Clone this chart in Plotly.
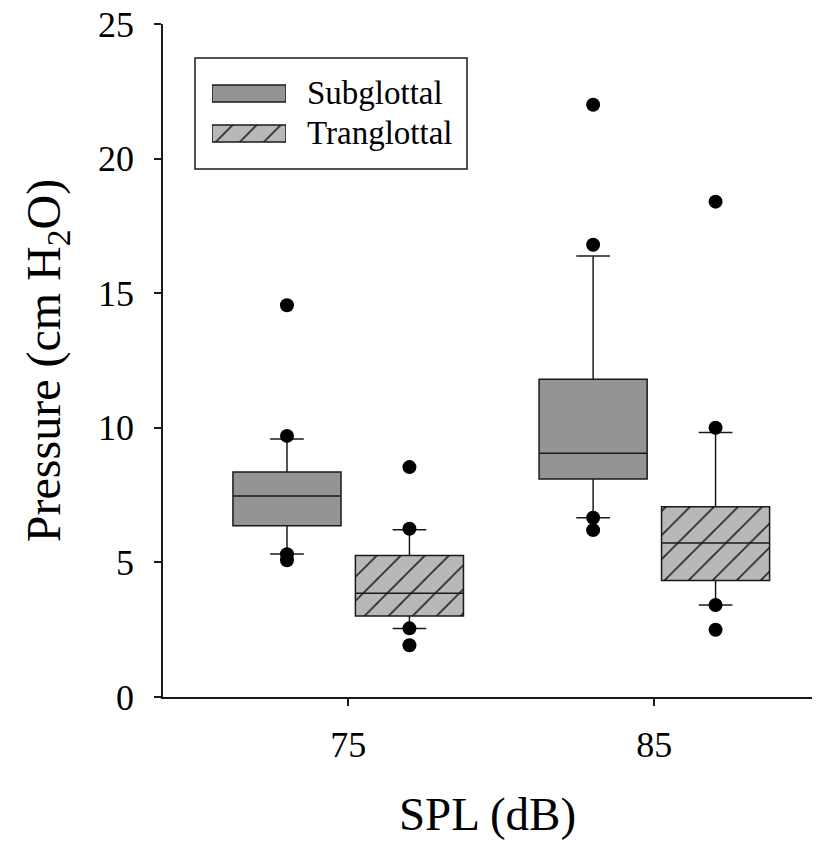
import plotly.graph_objects as go

# ---- data ----
spl = ["75", "85"]

sub_q1 = [6.36, 8.10]
sub_med = [7.47, 9.05]
sub_q3 = [8.36, 11.80]
sub_lo = [5.31, 6.66]
sub_hi = [9.58, 16.38]
sub_out = [[14.55, 9.70, 5.30, 5.08], [22.00, 16.80, 6.66, 6.20]]

tr_q1 = [3.01, 4.33]
tr_med = [3.85, 5.72]
tr_q3 = [5.26, 7.07]
tr_lo = [2.54, 3.42]
tr_hi = [6.21, 9.83]
tr_out = [[8.54, 6.25, 2.55, 1.92], [18.40, 10.00, 3.42, 2.50]]

series_names = ["Subglottal", "Tranglottal"]

# ---- style ----
FONT = "Liberation Serif"
EDGE = "#1a1a1a"
SUB_FILL = "#949494"
TR_FILL = "#b8b8b8"
OFF = 0.2      # half distance between the two boxes of a group
BW = 0.353     # box width
CW = 0.055     # half cap width

fig = go.Figure()


def add_series(off, q1, med, q3, lo, hi, outs, fill, pattern):
    xs = [i + off for i in range(len(spl))]
    marker = dict(color=fill, line=dict(color=EDGE, width=1.5))
    if pattern:
        marker["pattern"] = dict(shape="/", bgcolor=fill, fgcolor=EDGE,
                                 size=17, solidity=0.09, fillmode="replace")
    fig.add_trace(go.Bar(x=xs, y=[b - a for a, b in zip(q1, q3)], base=q1,
                         width=BW, marker=marker, showlegend=False,
                         hoverinfo="skip"))
    lx, ly = [], []
    for x, a, m, b, l, h in zip(xs, q1, med, q3, lo, hi):
        lx += [x, x, None, x, x, None,
               x - CW, x + CW, None, x - CW, x + CW, None,
               x - BW / 2, x + BW / 2, None]
        ly += [b, h, None, a, l, None,
               h, h, None, l, l, None,
               m, m, None]
    fig.add_trace(go.Scatter(x=lx, y=ly, mode="lines",
                             line=dict(color=EDGE, width=1.5),
                             showlegend=False, hoverinfo="skip"))
    ox, oy = [], []
    for x, vals in zip(xs, outs):
        ox += [x] * len(vals)
        oy += vals
    fig.add_trace(go.Scatter(x=ox, y=oy, mode="markers",
                             marker=dict(color="black", size=14),
                             showlegend=False))


add_series(-OFF, sub_q1, sub_med, sub_q3, sub_lo, sub_hi, sub_out, SUB_FILL, False)
add_series(OFF, tr_q1, tr_med, tr_q3, tr_lo, tr_hi, tr_out, TR_FILL, True)

# ---- custom legend (swatches on their own small axes) ----
fig.add_trace(go.Bar(y=[0], x=[1], base=[0], orientation="h", width=0.425,
                     marker=dict(color=SUB_FILL, line=dict(color=EDGE, width=1.5)),
                     xaxis="x2", yaxis="y2", showlegend=False, hoverinfo="skip"))
fig.add_trace(go.Bar(y=[1], x=[1], base=[0], orientation="h", width=0.425,
                     marker=dict(color=TR_FILL, line=dict(color=EDGE, width=1.5),
                                 pattern=dict(shape="/", bgcolor=TR_FILL, fgcolor=EDGE,
                                              size=17, solidity=0.09, fillmode="replace")),
                     xaxis="x2", yaxis="y2", showlegend=False, hoverinfo="skip"))

# page body has an 8px default margin, so the figure is offset by 8px
BODY = 8
PL, PR, PT, PB = 163 - BODY, 812 - BODY, 24 - BODY, 697 - BODY
W, H = 829 - BODY, 842 - BODY


def px(x):
    return (x - BODY - PL) / (PR - PL)


def py(y):
    return 1 - (y - BODY - PT) / (PB - PT)


annotations = [
    dict(x=px(305), y=py(93.5), xref="paper", yref="paper", text=series_names[0],
         showarrow=False, xanchor="left", yanchor="middle",
         font=dict(family=FONT, size=33, color="black")),
    dict(x=px(305), y=py(133.5), xref="paper", yref="paper", text=series_names[1],
         showarrow=False, xanchor="left", yanchor="middle",
         font=dict(family=FONT, size=33, color="black")),
]

shapes = [dict(type="rect", xref="paper", yref="paper",
               x0=px(195), x1=px(467), y0=py(169), y1=py(58),
               line=dict(color=EDGE, width=1.5), fillcolor="rgba(0,0,0,0)",
               layer="below")]

fig.update_layout(
    width=W, height=H,
    margin=dict(l=PL, r=W - PR, t=PT, b=H - PB, autoexpand=False),
    paper_bgcolor="white", plot_bgcolor="white",
    barmode="overlay",
    font=dict(family=FONT, color="black"),
    annotations=annotations,
    shapes=shapes,
    xaxis=dict(range=[-0.605, 1.515], tickvals=[0, 1], ticktext=spl,
               showgrid=False, zeroline=False, showline=True, automargin=False,
               linecolor=EDGE, linewidth=1.5, ticks="outside", ticklen=7,
               tickwidth=1.5, tickcolor=EDGE, ticklabeloverflow="allow",
               tickfont=dict(family=FONT, size=36), ticklabelstandoff=8,
               title=dict(text="SPL (dB)", font=dict(family=FONT, size=47),
                          standoff=33)),
    yaxis=dict(range=[0, 25], dtick=5, tick0=0,
               showgrid=False, zeroline=False, showline=True, automargin=False,
               linecolor=EDGE, linewidth=1.5, ticks="outside", ticklen=7,
               tickwidth=1.5, tickcolor=EDGE, ticklabeloverflow="allow",
               tickfont=dict(family=FONT, size=36), ticklabelstandoff=13,
               title=dict(text="Pressure (cm H<sub>2</sub>O)",
                          font=dict(family=FONT, size=48), standoff=22)),
    xaxis2=dict(domain=[px(212), px(286)], range=[0, 1], visible=False,
                anchor="y2", fixedrange=True),
    yaxis2=dict(domain=[py(153.5), py(73.5)], range=[1.5, -0.5], visible=False,
                anchor="x2", fixedrange=True),
)

fig.write_html("out.html")
